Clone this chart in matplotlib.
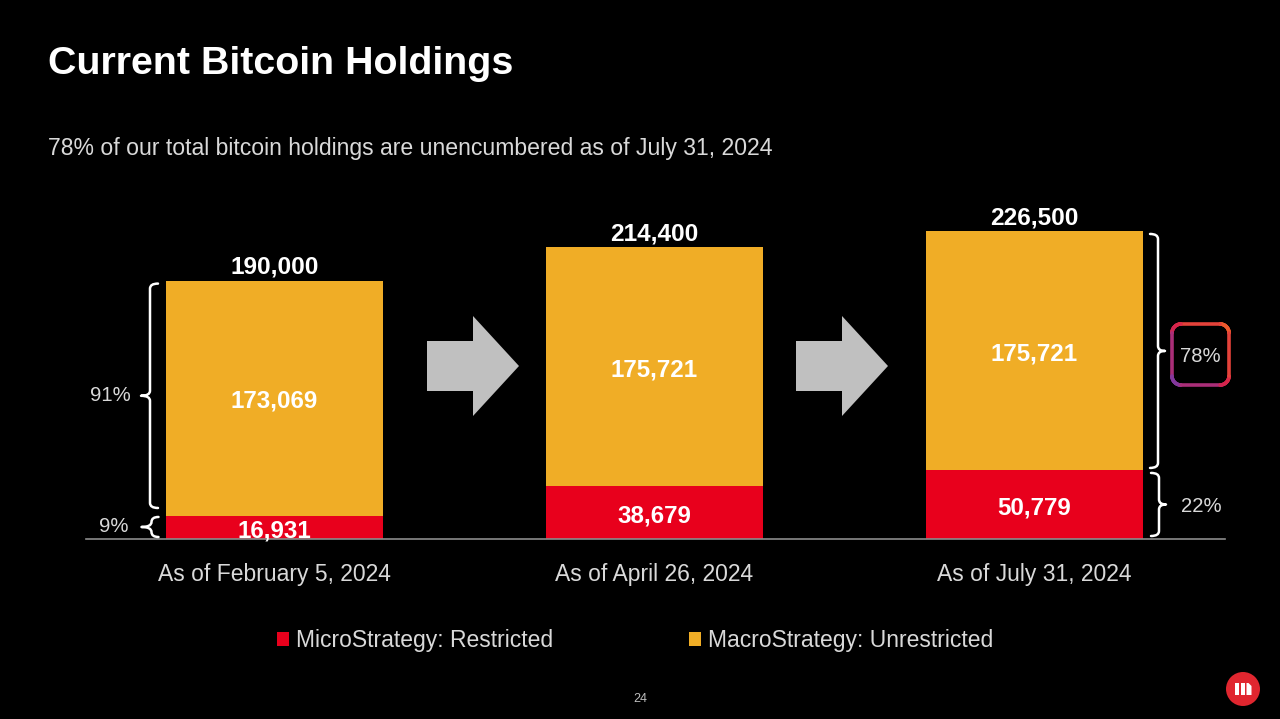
import matplotlib
matplotlib.use('Agg')
import matplotlib.pyplot as plt
import numpy as np
from matplotlib.patches import PathPatch, Polygon, Circle
from matplotlib.path import Path
from matplotlib.transforms import IdentityTransform
from matplotlib.collections import LineCollection
from matplotlib.colors import LinearSegmentedColormap

plt.rcParams['font.family'] = ['Liberation Sans', 'DejaVu Sans']

# ---------------- data ----------------
categories = ['As of February 5, 2024', 'As of April 26, 2024', 'As of July 31, 2024']
restricted = [16931, 38679, 50779]
unrestricted = [173069, 175721, 175721]
totals = [190000, 214400, 226500]
left_pct_labels = ['91%', '9%']
right_pct_labels = ['78%', '22%']
legend_labels = ['MicroStrategy: Restricted', 'MacroStrategy: Unrestricted']
title = 'Current Bitcoin Holdings'
subtitle = '78% of our total bitcoin holdings are unencumbered as of July 31, 2024'
page_no = '24'

# ---------------- style ----------------
W, H = 1280, 719
RED = '#e8001c'
ORANGE = '#f0ad26'
GREY_TXT = '#d9d9d9'
ARROW = '#c0c0c0'
IDT = IdentityTransform()


def P(px, py):
    """pixel coords (top-left origin) -> display coords"""
    return (px, H - py)


fig = plt.figure(figsize=(W / 100, H / 100), dpi=100, facecolor='black')
ax = fig.add_axes([86 / W, (H - 539) / H, (1225 - 86) / W, 339 / H])
ax.set_facecolor('black')

x = np.arange(len(categories))
bw = 217 / 380
ax.bar(x, restricted, width=bw, color=RED, label=legend_labels[0], zorder=2)
ax.bar(x, unrestricted, bottom=restricted, width=bw, color=ORANGE,
       label=legend_labels[1], zorder=2)
ax.set_xlim((86 - 274.5) / 380, (1225 - 274.5) / 380)
ax.set_ylim(0, 339 / 1.36 * 1000)

for s in ['left', 'right', 'top']:
    ax.spines[s].set_visible(False)
ax.spines['bottom'].set_color('#8c8c8c')
ax.spines['bottom'].set_linewidth(1.2)
ax.set_yticks([])
ax.set_xticks(x, categories)
ax.tick_params(axis='x', length=0, pad=17.5, colors=GREY_TXT, labelsize=16.5)

# value labels
for xi, r, u, t in zip(x, restricted, unrestricted, totals):
    ax.annotate(f'{t:,}', (xi, t), xytext=(0, 5), textcoords='offset points',
                ha='center', va='baseline', color='white', fontsize=17.6,
                fontweight='bold')
    ax.annotate(f'{u:,}', (xi, r + u / 2), xytext=(0, -2.2),
                textcoords='offset points', ha='center', va='center',
                color='white', fontsize=17.4, fontweight='bold')
    ax.annotate(f'{r:,}', (xi, r / 2), xytext=(0, -2.2),
                textcoords='offset points', ha='center', va='center',
                color='white', fontsize=17.4, fontweight='bold')

# legend
ax.legend(loc='center', bbox_to_anchor=(635 / W, (H - 641) / H),
          bbox_transform=fig.transFigure, ncol=2, frameon=False,
          fontsize=16.5, labelcolor=GREY_TXT, handlelength=0.55,
          handleheight=0.55, handletextpad=0.3, columnspacing=5.9)

# titles
fig.text(48 / W, (H - 74) / H, title, color='white', fontsize=28.4,
         fontweight='bold', va='baseline', ha='left')
fig.text(48 / W, (H - 155) / H, subtitle, color=GREY_TXT, fontsize=16.6,
         va='baseline', ha='left')
fig.text(640 / W, (H - 699) / H, page_no, color='#bfbfbf', fontsize=9,
         va='center', ha='center')

# arrows between bars
for ax0 in [427, 796]:
    pts = [P(ax0, 341), P(ax0 + 46, 341), P(ax0 + 46, 316), P(ax0 + 92, 366),
           P(ax0 + 46, 416), P(ax0 + 46, 391), P(ax0, 391)]
    fig.add_artist(Polygon(pts, closed=True, facecolor=ARROW, edgecolor='none',
                           transform=IDT))


# braces
def brace(x0, ytop, ybot, d, hook=8, tip=9, r=5, lw=1.8):
    r = min(r, (ytop - ybot) / 4)
    ym = (ytop + ybot) / 2
    hx = x0 - d * hook
    verts = [(hx, ytop), (x0, ytop), (x0, ytop - r),
             (x0, ym + r), (x0, ym), (x0 + d * tip, ym),
             (x0, ym), (x0, ym - r),
             (x0, ybot + r), (x0, ybot), (hx, ybot)]
    codes = [Path.MOVETO, Path.CURVE3, Path.CURVE3, Path.LINETO,
             Path.CURVE3, Path.CURVE3, Path.CURVE3, Path.CURVE3,
             Path.LINETO, Path.CURVE3, Path.CURVE3]
    fig.add_artist(PathPatch(Path(verts, codes), facecolor='none',
                             edgecolor='white', lw=lw, transform=IDT,
                             capstyle='round', joinstyle='round'))
    return x0 + d * tip, ym


td = ax.transData
# left braces on first bar
bx_left = td.transform((x[0] - bw / 2, 0))[0] - 16
y_top0 = td.transform((0, totals[0]))[1]
y_mid0 = td.transform((0, restricted[0]))[1]
y_base = td.transform((0, 0))[1]
tx, ty = brace(bx_left, y_top0 - 3, y_mid0 + 8, -1)
fig.text(tx - 10, ty, left_pct_labels[0], color=GREY_TXT, fontsize=14.6,
         ha='right', va='center', transform=IDT)
tx, ty = brace(bx_left + 1.5, y_mid0 - 1, y_base + 2, -1, hook=7, tip=10)
fig.text(tx - 13, ty, left_pct_labels[1], color=GREY_TXT, fontsize=14.6,
         ha='right', va='center', transform=IDT)

# right braces on last bar
bx_right = td.transform((x[-1] + bw / 2, 0))[0] + 15
y_top2 = td.transform((0, totals[-1]))[1]
y_mid2 = td.transform((0, restricted[-1]))[1]
tx, ty = brace(bx_right, y_top2 - 3, y_mid2 + 2, 1, tip=7)
tx2, ty2 = brace(bx_right + 1, y_mid2 - 3, y_base + 3, 1, tip=7)
fig.text(tx2 + 15, ty2 - 2, right_pct_labels[1], color=GREY_TXT, fontsize=14.6,
         ha='left', va='center', transform=IDT)

# gradient rounded box for 78%
bx0, bx1 = 1172, 1229
by0, by1 = H - 385, H - 324
rad = 9
pts = []
n = 30
corners = [(bx1 - rad, by1 - rad, 0, 90), (bx0 + rad, by1 - rad, 90, 180),
           (bx0 + rad, by0 + rad, 180, 270), (bx1 - rad, by0 + rad, 270, 360)]
for cx, cy, a0, a1 in corners:
    th = np.radians(np.linspace(a0, a1, n))
    pts.extend(zip(cx + rad * np.cos(th), cy + rad * np.sin(th)))
pts.append(pts[0])
pts = np.array(pts)
segs = np.stack([pts[:-1], pts[1:]], axis=1)
mid = (segs[:, 0] + segs[:, 1]) / 2
tval = ((mid[:, 0] - bx0) / (bx1 - bx0) + (mid[:, 1] - by0) / (by1 - by0)) / 2
cmap = LinearSegmentedColormap.from_list('g', ['#7b3aa6', '#d8234a', '#f0602a'])
lc = LineCollection(segs, colors=cmap(tval), linewidths=2.6, transform=IDT,
                    capstyle='round')
fig.add_artist(lc)
fig.text((bx0 + bx1) / 2, (by0 + by1) / 2 - 2, right_pct_labels[0],
         color=GREY_TXT, fontsize=14.6, ha='center', va='center', transform=IDT)

# logo
fig.add_artist(Circle(P(1243, 689), 17, facecolor='#e0262f', edgecolor='none',
                      transform=IDT))
for lx0, lx1, slant in [(1234.5, 1238.5, 0), (1240.5, 1244.5, 0), (1246.5, 1251.5, 3)]:
    poly = [P(lx0, 695), P(lx1, 695), P(lx1, 683 + slant), P(lx1 - slant, 683), P(lx0, 683)]
    fig.add_artist(Polygon(poly, closed=True, facecolor='white', edgecolor='none',
                           transform=IDT))

fig.savefig('out.png', dpi=100, facecolor='black')
